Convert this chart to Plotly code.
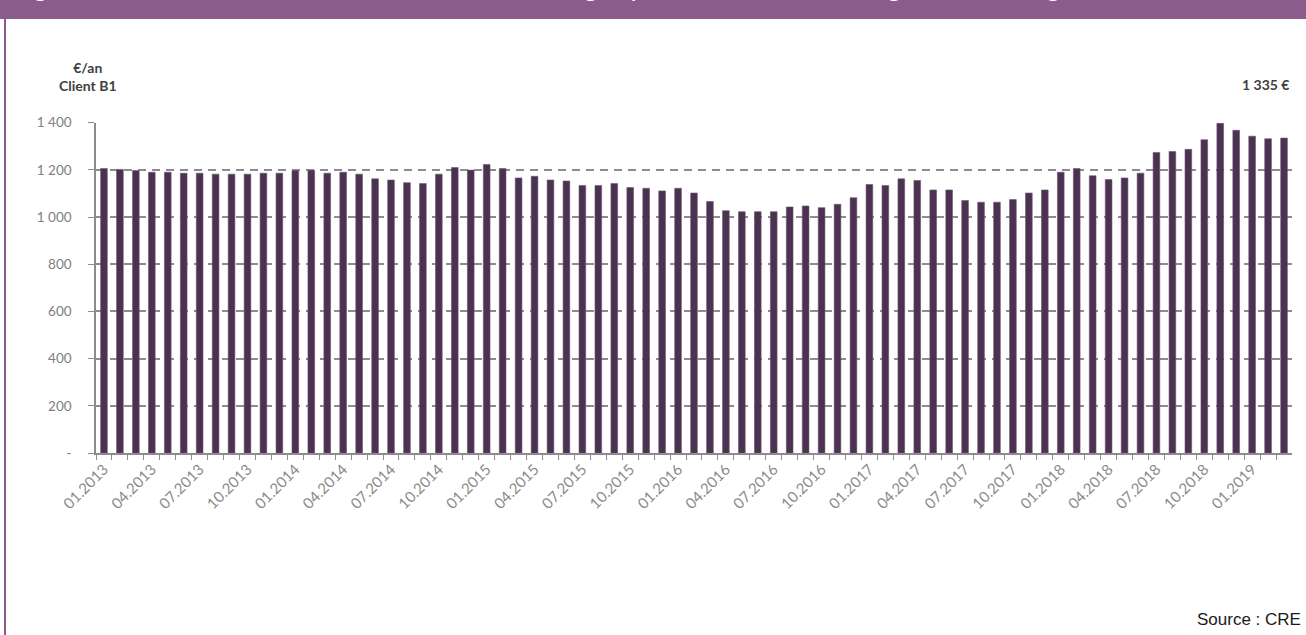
import pandas as pd
import plotly.graph_objects as go

# Monthly categories, January 2013 to March 2019
months = list(pd.period_range("2013-01", "2019-03", freq="M").strftime("%m.%Y"))

# Average annual bill (EUR/year), client B1
bill_b1 = [
    1206, 1202, 1197, 1190, 1190, 1186, 1186, 1182, 1182, 1182,
    1186, 1186, 1197, 1198, 1186, 1190, 1182, 1162, 1157, 1146,
    1142, 1182, 1210, 1199, 1223, 1206, 1166, 1173, 1157, 1153,
    1134, 1134, 1142, 1125, 1122, 1111, 1122, 1102, 1066, 1027,
    1023, 1023, 1023, 1043, 1047, 1040, 1054, 1082, 1138, 1134,
    1162, 1155, 1115, 1115, 1070, 1063, 1063, 1074, 1102, 1115,
    1190, 1206, 1175, 1159, 1166, 1186, 1274, 1278, 1287, 1328,
    1398, 1368, 1343, 1332, 1335,
]

# Quarterly tick labels on the month axis
x_tick_text = [m if i % 3 == 0 else "" for i, m in enumerate(months)]

y_tick_vals = [0, 200, 400, 600, 800, 1000, 1200, 1400]
y_tick_text = ["-", "200", "400", "600", "800", "1 000", "1 200", "1 400"]

last_value_label = "1 335 €"
unit_label = "€/an<br>Client B1"
source_label = "Source : CRE"
title_text = ("Figure 12 : Évolution de la facture totale TTC au gaz pour un client B1 "
              "(usage de chauffage)")

W, H = 1306, 635
PURPLE = "#8b5b8b"
BAR = "#4a3250"
GRID = "#8c8c8c"


def px_x(p):
    return p / W


def px_y(p):
    return 1 - p / H


fig = go.Figure()
fig.add_trace(go.Bar(
    x=months,
    y=bill_b1,
    marker=dict(color=BAR, line=dict(color="#6b5572", width=0.6)),
    width=0.42,
    hoverinfo="x+y",
))

fig.update_layout(
    template="none",
    width=W, height=H, autosize=False,
    margin=dict(l=0, r=0, t=0, b=0, pad=0),
    paper_bgcolor="white", plot_bgcolor="white",
    showlegend=False,
    font=dict(family="Lato, Open Sans, sans-serif", color="#7f7f7f"),
    xaxis=dict(
        type="category",
        automargin=False,
        domain=[px_x(96), px_x(1292)],
        range=[-0.5, len(months) - 0.5],
        tickmode="array", tickvals=months, ticktext=x_tick_text,
        tickson="boundaries",
        ticks="outside", ticklen=5, tickcolor=GRID, tickwidth=1.3,
        tickangle=-45,
        tickfont=dict(size=15, color="#8a8a8a"),
        showline=True, linecolor=GRID, linewidth=1.5,
        showgrid=False, zeroline=False,
        fixedrange=True,
    ),
    yaxis=dict(
        automargin=False,
        domain=[px_y(453), px_y(122.7)],
        range=[0, 1400],
        tickmode="array", tickvals=y_tick_vals, ticktext=y_tick_text,
        ticks="outside", ticklen=6, tickcolor=GRID, tickwidth=1.3,
        ticklabelstandoff=14,
        tickfont=dict(size=13.5, color="#808080"),
        showline=True, linecolor=GRID, linewidth=1.5,
        showgrid=True, gridcolor=GRID, gridwidth=1.6, griddash="8px,6px",
        zeroline=False,
        fixedrange=True,
    ),
    bargap=0.58,
)

shapes = [
    # header band
    dict(type="rect", xref="paper", yref="paper",
         x0=0, x1=1, y0=px_y(19), y1=1.01,
         fillcolor=PURPLE, line=dict(width=0), layer="below"),
    # left frame line
    dict(type="line", xref="paper", yref="paper",
         x0=px_x(5), x1=px_x(5), y0=0, y1=1,
         line=dict(color=PURPLE, width=2)),
]
fig.update_layout(shapes=shapes)

annotations = [
    # header title, mostly above the page edge
    dict(text=title_text, xref="paper", yref="paper",
         x=px_x(10), y=px_y(9), xanchor="left", yanchor="bottom",
         yshift=5,
         showarrow=False,
         font=dict(size=27, color="white", family="Lato, sans-serif")),
    dict(text=unit_label, xref="paper", yref="paper",
         x=px_x(88), y=px_y(77), xanchor="center", yanchor="middle",
         showarrow=False, align="center",
         font=dict(size=14, color="#404040", family="Lato, sans-serif", weight="bold")),
    dict(text=last_value_label, xref="paper", yref="paper",
         x=px_x(1291), y=px_y(85), xanchor="right", yanchor="middle",
         showarrow=False,
         font=dict(size=14, color="#404040", family="Lato, sans-serif", weight="bold")),
    dict(text=source_label, xref="paper", yref="paper",
         x=px_x(1303), y=px_y(619), xanchor="right", yanchor="middle",
         showarrow=False,
         font=dict(size=17, color="#1a1a1a", family="Liberation Sans, Arial, sans-serif")),
]
fig.update_layout(annotations=annotations)

fig.write_html("out.html", config={"displayModeBar": False})
